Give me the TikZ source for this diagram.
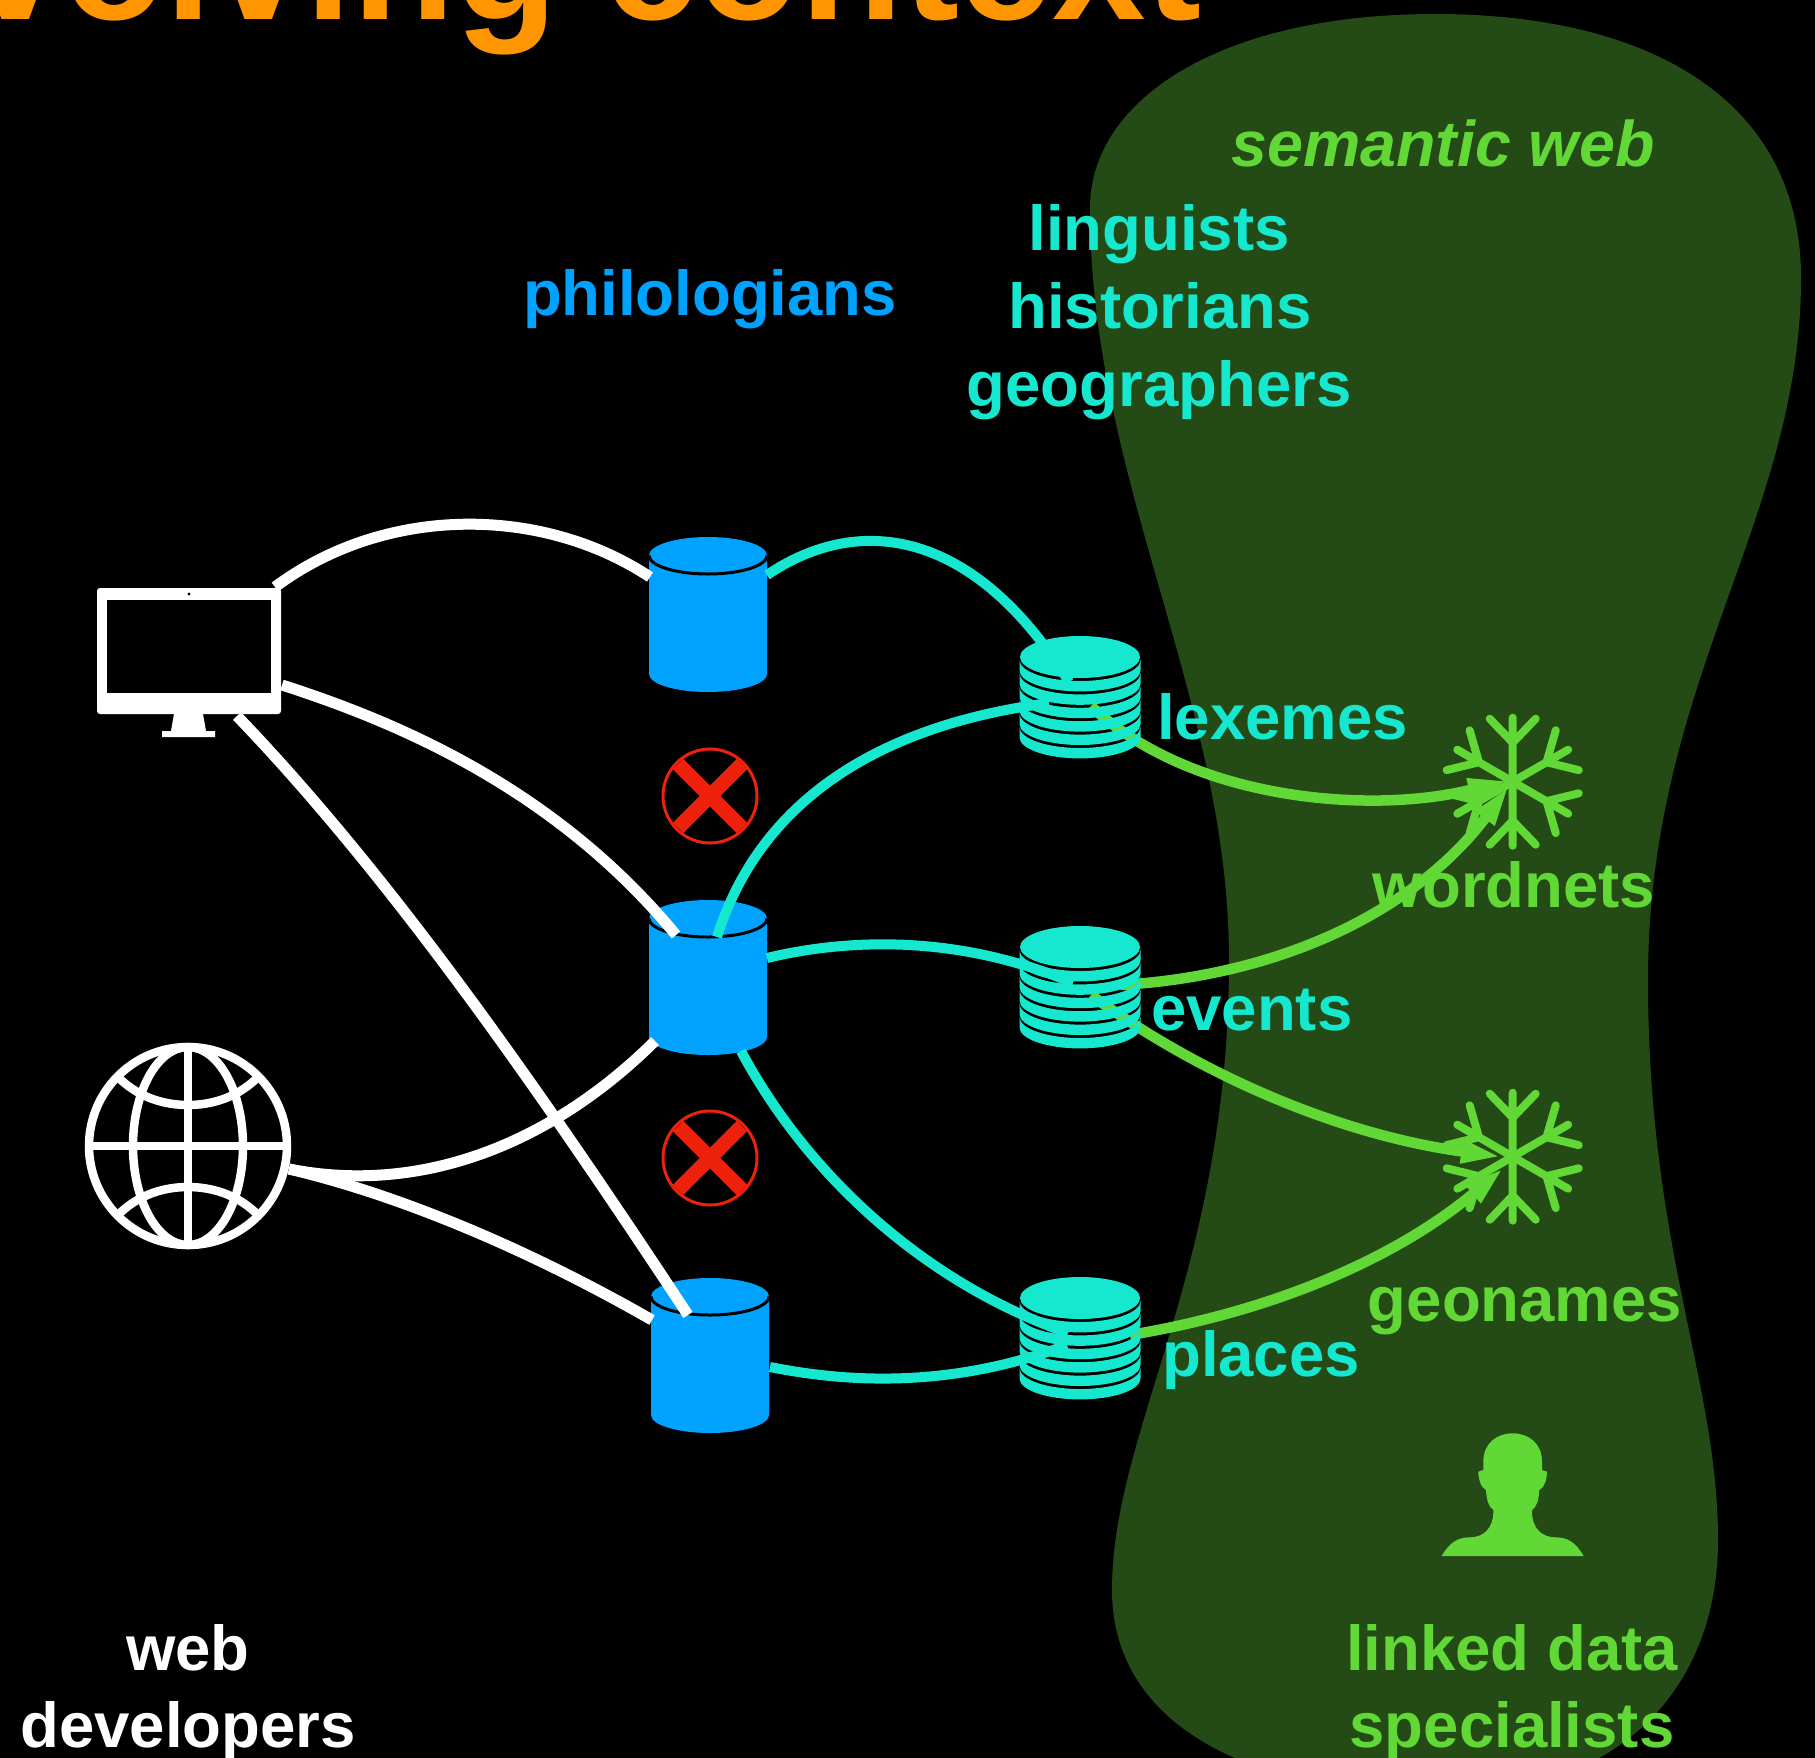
\documentclass[tikz,border=0pt]{standalone}
\usepackage{fontspec}
\setmainfont{Liberation Sans}
\usetikzlibrary{arrows.meta}
\definecolor{orangeT}{HTML}{FF9500}
\definecolor{blueD}{HTML}{00A2FF}
\definecolor{cyanD}{HTML}{16E7CF}
\definecolor{greenD}{HTML}{61D836}
\definecolor{blobG}{HTML}{244A15}
\definecolor{redX}{HTML}{EE220C}
\tikzset{
  lbl/.style={inner sep=0pt,font=\bfseries\fontsize{63.5}{70}\selectfont},
  whiteline/.style={draw=white,line width=11pt},
  cyanline/.style={draw=cyanD,line width=10pt},
  greenline/.style={draw=greenD,line width=10.5pt,-{Triangle[length=42pt,width=21pt]},shorten >=0pt},
  flake/.style={draw=greenD,line width=8pt,line cap=round},
}
\newcommand{\bluecyl}[2]{%
  \fill[blueD] (#1-59,#2+18.5) -- (#1-59,#2+137) arc[start angle=180,end angle=360,x radius=59pt,y radius=18pt] -- (#1+59,#2+18.5) -- cycle;
  \fill[blueD] (#1,#2+18.5) ellipse [x radius=59pt,y radius=18.5pt];
  \draw[black,line width=3pt] (#1-59,#2+18.5) arc[start angle=180,end angle=360,x radius=59pt,y radius=18.5pt];
}
\newcommand{\stackdb}[2]{%
  \foreach \i in {1,...,6}{
    \pgfmathsetmacro\ca{#2+13.4*\i}
    \pgfmathsetmacro\cb{#2+13.4*(\i-1)+3}
    \fill[cyanD] (#1-60.5,\ca) arc[start angle=180,end angle=360,x radius=60.5pt,y radius=21pt] -- (#1+60.5,\cb) arc[start angle=0,end angle=-180,x radius=60.5pt,y radius=21pt] -- cycle;
  }
  \fill[cyanD] (#1,#2) ellipse [x radius=60pt,y radius=21pt];
}
\newcommand{\redcross}[2]{%
  \draw[redX,line width=14.6pt] (#1-32,#2-32) -- (#1+32,#2+32) (#1-32,#2+32) -- (#1+32,#2-32);
  \draw[redX,line width=3pt] (#1,#2) circle [radius=47pt];
}
\newcommand{\snowflake}[2]{%
  \foreach \a in {90,150,210,270,330,30}{
    \begin{scope}[shift={(#1,#2)},rotate=\a]
      \draw[flake] (0,0) -- (64pt,0pt) (39pt,0pt) -- (63pt,23pt) (39pt,0pt) -- (63pt,-23pt);
    \end{scope}
  }
}
\begin{document}
\begin{tikzpicture}[x=1pt,y=-1pt]
\useasboundingbox (0,0) rectangle (1815,1758);
\clip (0,0) rectangle (1815,1758);
\fill[black] (0,0) rectangle (1815,1758);
% semantic web region
\fill[blobG] (1435,14) .. controls (1650,14) and (1801,100) .. (1801,278)
  .. controls (1801,520) and (1648,680) .. (1648,980)
  .. controls (1648,1250) and (1718,1380) .. (1718,1540)
  .. controls (1718,1680) and (1630,1790) .. (1450,1795)
  .. controls (1240,1795) and (1112,1720) .. (1112,1590)
  .. controls (1112,1430) and (1229,1270) .. (1229,960)
  .. controls (1229,700) and (1090,480) .. (1090,208)
  .. controls (1090,100) and (1220,14) .. (1435,14) -- cycle;
% title
\node[anchor=base west,inner sep=0pt,text=orangeT,font=\bfseries\fontsize{168}{170}\selectfont] (title) at (-30.6,20) {volving context};
% monitor
\fill[white,rounded corners=3pt] (97,588) rectangle (281,714);
\fill[black] (107,600) rectangle (271,693);
\fill[black] (189,594) circle [radius=1.7pt];
\fill[white] (174,714) -- (203,714) -- (206,731) -- (215,731) -- (215,737) -- (162,737) -- (162,731) -- (171,731) -- cycle;
% globe
\begin{scope}[white,line width=8.5pt]
  \draw (188,1146) circle [radius=99pt];
  \draw (188,1146) ellipse [x radius=55pt,y radius=99pt];
  \draw (188,1047) -- (188,1245);
  \draw (89,1146) -- (287,1146);
  \draw (120,1079) .. controls (140,1098) and (165,1105) .. (188,1105) .. controls (211,1105) and (236,1098) .. (256,1079);
  \draw (120,1213) .. controls (140,1194) and (165,1187) .. (188,1187) .. controls (211,1187) and (236,1194) .. (256,1213);
\end{scope}
% blue databases
\bluecyl{708}{537}
\bluecyl{708}{900}
\bluecyl{710}{1278}
% named end points
\coordinate (mA) at (275,587);
\coordinate (mB) at (282,685);
\coordinate (mC) at (237,716);
\coordinate (gl) at (289,1169);
\coordinate (d1w) at (650,577);
\coordinate (d1e) at (767,575);
\coordinate (d2nw) at (676,935);
\coordinate (d2w) at (655,1041);
\coordinate (d2t) at (717,937);
\coordinate (d2e) at (767,958);
\coordinate (d2s) at (741,1051);
\coordinate (d3w) at (652,1320);
\coordinate (d3t) at (688,1315);
\coordinate (d3e) at (770,1367);
\coordinate (lexN) at (1069,682);
\coordinate (lexW) at (1049,703);
\coordinate (lexG) at (1091,706);
\coordinate (evW) at (1073,983);
\coordinate (evGa) at (1120,985);
\coordinate (evGb) at (1091,995);
\coordinate (plW) at (1068,1333);
\coordinate (plS) at (1067,1345);
\coordinate (plG) at (1130,1335);
\coordinate (wn1) at (1510,780);
\coordinate (wn2) at (1510,785);
\coordinate (gn1) at (1503,1157);
\coordinate (gn2) at (1505,1167);
% white connectors
\draw[whiteline] (mA) .. controls (385,505) and (541,505) .. (d1w);
\draw[whiteline] (mB) .. controls (384,718) and (550,782) .. (d2nw);
\draw[whiteline] (mC) .. controls (385,870) and (530,1075) .. (d3t);
\draw[whiteline] (gl) .. controls (420,1195) and (550,1145) .. (d2w);
\draw[whiteline] (gl) .. controls (400,1195) and (530,1250) .. (d3w);
% cyan connectors
\draw[cyanline] (d1e) .. controls (860,512) and (975,530) .. (lexN);
\draw[cyanline] (d2t) .. controls (760,800) and (880,725) .. (lexW);
\draw[cyanline] (d2e) .. controls (850,938) and (960,935) .. (evW);
\draw[cyanline] (d2s) .. controls (810,1180) and (930,1285) .. (plW);
\draw[cyanline] (d3e) .. controls (860,1385) and (960,1385) .. (plS);
% green connectors
\snowflake{1512.7}{781.7}
\snowflake{1512.7}{1156.7}
\draw[greenline] (lexG) .. controls (1190,800) and (1370,815) .. (wn1);
\draw[greenline] (evGa) .. controls (1290,975) and (1420,905) .. (wn2);
\draw[greenline] (evGb) .. controls (1200,1075) and (1340,1135) .. (gn1);
\draw[greenline] (plG) .. controls (1280,1310) and (1400,1255) .. (gn2);
% term stacks
\stackdb{1080}{657}
\stackdb{1080}{947}
\stackdb{1080}{1298}
% crosses
\redcross{710}{796}
\redcross{710}{1158}
% person
\begin{scope}[shift={(1400,1400)},x=0.3333pt,y=-0.3333pt]
\fill[greenD] (125,468) .. controls (150,425) and (175,412) .. (210,412) .. controls (250,412) and (280,385) .. (280,335) -- (280,330) .. controls (265,320) and (260,300) .. (258,270) .. controls (245,265) and (235,240) .. (235,215) -- (250,210) -- (250,185) .. controls (250,130) and (290,100) .. (338,100) .. controls (386,100) and (426,130) .. (426,185) -- (426,210) -- (441,215) .. controls (441,240) and (431,265) .. (418,270) .. controls (416,300) and (411,320) .. (396,330) -- (396,335) .. controls (396,385) and (426,412) .. (466,412) .. controls (501,412) and (526,425) .. (551,468) -- cycle;
\end{scope}
% labels
\node[lbl,anchor=base,text=greenD,font=\bfseries\itshape\fontsize{64.5}{70}\selectfont] (sw) at (1443,166) {semantic web};
\node[lbl,anchor=base,text=cyanD] (ling) at (1159,250) {linguists};
\node[lbl,anchor=base,text=cyanD] (hist) at (1160,328) {historians};
\node[lbl,anchor=base,text=cyanD] (geog) at (1159,406) {geographers};
\node[lbl,anchor=base,text=blueD] (phil) at (710,315) {philologians};
\node[lbl,anchor=base west,text=cyanD] (lex) at (1157,739) {lexemes};
\node[lbl,anchor=base west,text=cyanD] (ev) at (1151,1030) {events};
\node[lbl,anchor=base west,text=cyanD] (pl) at (1162,1376) {places};
\node[lbl,anchor=base,text=greenD] (wn) at (1514,907) {wordnets};
\node[lbl,anchor=base,text=greenD] (gn) at (1525,1321) {geonames};
\node[lbl,anchor=base,text=greenD] (ld) at (1512,1670) {linked data};
\node[lbl,anchor=base,text=greenD] (sp) at (1512,1747) {specialists};
\node[lbl,anchor=base,text=white] (wb) at (188,1670) {web};
\node[lbl,anchor=base,text=white] (dv) at (188,1747) {developers};
\end{tikzpicture}
\end{document}
